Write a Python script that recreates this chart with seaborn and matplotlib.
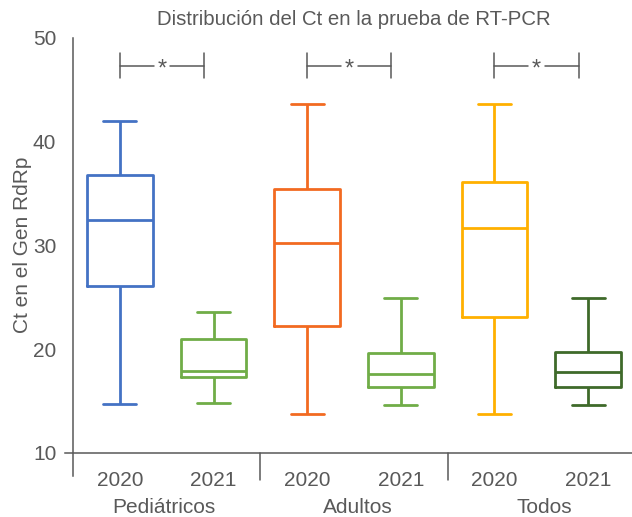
import matplotlib
matplotlib.use("Agg")
import matplotlib.pyplot as plt
import matplotlib.transforms as mtransforms
import seaborn as sns
import pandas as pd

groups = ["Pediátricos", "Adultos", "Todos"]
years = ["2020", "2021"]
# five-number summaries: min, Q1, median, Q3, max
ped_2020 = [14.7, 26.1, 32.4, 36.8, 42.0]
ped_2021 = [14.8, 17.3, 17.9, 21.0, 23.6]
adu_2020 = [13.8, 22.2, 30.2, 35.4, 43.6]
adu_2021 = [14.6, 16.4, 17.6, 19.6, 24.9]
tod_2020 = [13.8, 23.1, 31.7, 36.1, 43.6]
tod_2021 = [14.6, 16.4, 17.8, 19.7, 24.9]
colors = ["#4472C4", "#70AD47", "#F26A21", "#70AD47", "#FFB000", "#3F6A2A"]
sig_y = 47.3

series = [ped_2020, ped_2021, adu_2020, adu_2021, tod_2020, tod_2021]
rows = []
i = 0
for g in groups:
    for yr in years:
        for v in series[i]:
            rows.append({"box": f"{g} {yr}", "Ct": v})
        i += 1
df = pd.DataFrame(rows)

sns.set_style("white")
plt.rcParams["font.family"] = ["Liberation Sans", "DejaVu Sans"]
gray = "#595959"

fig = plt.figure(figsize=(6.32, 5.17), dpi=100)
ax = fig.add_axes([73 / 632, 1 - 453 / 517, 562 / 632, (453 - 37.5) / 517])

sns.boxplot(data=df, x="box", y="Ct", hue="box", palette=colors, legend=False,
            fill=False, width=0.7, whis=(0, 100), linewidth=2.0, ax=ax)

ax.set_ylim(10, 50)
ax.set_xlim(-0.5, 5.5)
ax.set_yticks([10, 20, 30, 40, 50])
ax.set_xticks(range(6))
ax.set_xticklabels(years * 3)
ax.set_xlabel("")
ax.set_ylabel("Ct en el Gen RdRp", fontsize=15, color=gray, labelpad=1)
ax.set_title("Distribución del Ct en la prueba de RT-PCR", fontsize=14.7, color=gray, pad=9)

for s in ["top", "right"]:
    ax.spines[s].set_visible(False)
for s in ["left", "bottom"]:
    ax.spines[s].set_color(gray)
    ax.spines[s].set_linewidth(1.1)
ax.spines["left"].set_bounds(7.8, 50)
ax.spines["bottom"].set_bounds(-0.585, 5.6)
ax.tick_params(axis="y", direction="out", length=8, width=1.1, color=gray,
               labelcolor=gray, labelsize=15, pad=4)
ax.tick_params(axis="x", direction="out", length=6, width=1.1, color=gray,
               labelcolor=gray, labelsize=15, pad=7)

trans = mtransforms.blended_transform_factory(ax.transData, ax.transAxes)
for xs in [1.5, 3.5]:
    ax.plot([xs, xs], [0, -0.065], transform=trans, color=gray, lw=1.1, clip_on=False)
label_shift = [0.47, 0.54, 0.53]
for k, g in enumerate(groups):
    ax.text(2 * k + label_shift[k], -0.132, g, transform=trans, ha="center", va="center",
            fontsize=15, color=gray)

# significance brackets
for k in range(3):
    x0, x1 = 2 * k, 2 * k + 0.9
    xm = (x0 + x1) / 2
    ax.plot([x0, xm - 0.09], [sig_y, sig_y], color=gray, lw=1.1)
    ax.plot([xm + 0.09, x1], [sig_y, sig_y], color=gray, lw=1.1)
    for xe in (x0, x1):
        ax.plot([xe, xe], [sig_y - 1.2, sig_y + 1.2], color=gray, lw=1.1)
    ax.text(xm, sig_y - 0.35, "*", ha="center", va="center", fontsize=17, color=gray)

fig.savefig("out.png", dpi=100)
